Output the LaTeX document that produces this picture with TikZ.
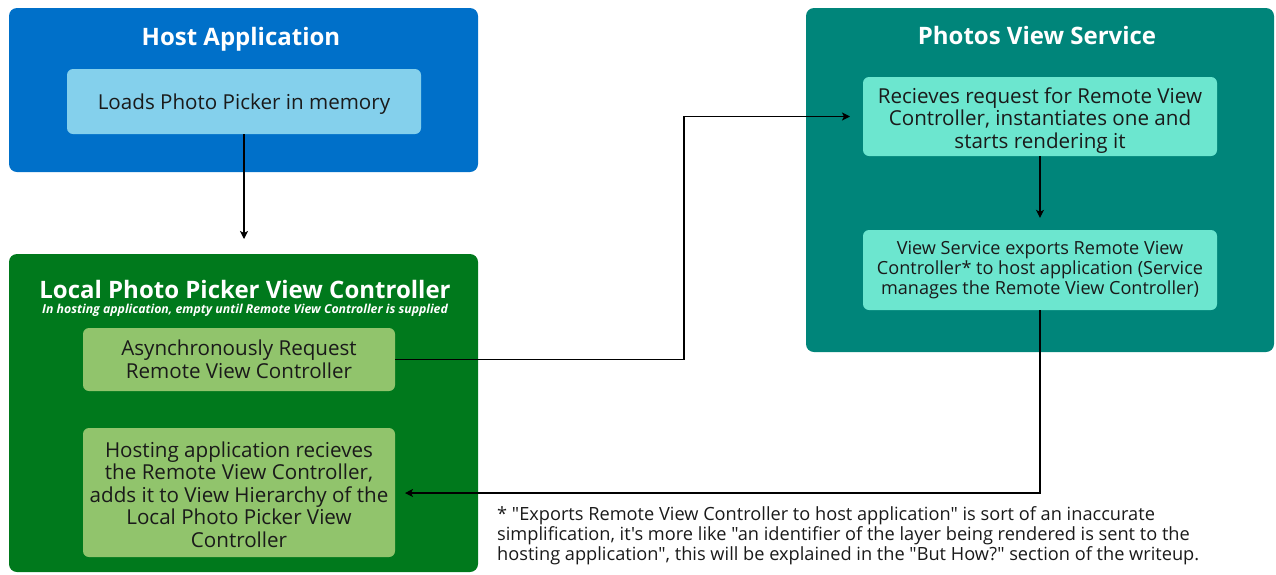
\documentclass[tikz,border=0pt]{standalone}
\usepackage{fontspec}
\setmainfont{Open Sans}[Ligatures=TeXOff]
\usetikzlibrary{arrows.meta}
\definecolor{hostblue}{HTML}{0070C9}
\definecolor{hostlight}{HTML}{84D0EC}
\definecolor{localgreen}{HTML}{00791C}
\definecolor{locallight}{HTML}{91C46C}
\definecolor{svcteal}{HTML}{00857A}
\definecolor{svclight}{HTML}{6CE6CF}
\definecolor{inktext}{HTML}{1A1A1A}
\begin{document}
\begin{tikzpicture}[x=1pt,y=-1pt,
  outerbox/.style={rectangle,rounded corners=8pt,inner sep=0pt,minimum width=#1},
  innerbox/.style={rectangle,rounded corners=6pt,inner sep=0pt},
  boxtext/.style={inner sep=0pt,align=center,text=inktext,font=\fontsize{20.6}{22.5}\selectfont},
  titletext/.style={anchor=base,text=white,font=\fontsize{24}{28}\selectfont\bfseries,inner sep=0pt},
  conn/.style={line width=1.2pt,-{Stealth[length=8pt,width=8pt,inset=2pt]}}
]
\useasboundingbox (0,0) rectangle (1276,574);
% outer boxes
\node[outerbox=469pt,minimum height=164pt,fill=hostblue] (host) at (243.5,90) {};
\node[outerbox=469pt,minimum height=318pt,fill=localgreen] (local) at (243.5,413) {};
\node[outerbox=468pt,minimum height=344pt,fill=svcteal] (svc) at (1040,180) {};
% titles
\node[titletext] (hosttitle) at (241,45) {Host Application};
\node[titletext] (localtitle) at (245,298) {Local Photo Picker View Controller};
\node[anchor=base,text=white,inner sep=0pt,font=\fontsize{12.3}{14}\selectfont\bfseries\itshape] (localsub) at (245,313) {In hosting application, empty until Remote View Controller is supplied};
\node[titletext] (svctitle) at (1037,44) {Photos View Service};
% inner boxes
\node[innerbox,fill=hostlight,minimum width=354pt,minimum height=65pt] (hostin) at (244,101.5) {};
\node[innerbox,fill=locallight,minimum width=312pt,minimum height=63pt] (async) at (239,359.5) {};
\node[innerbox,fill=locallight,minimum width=312pt,minimum height=129pt] (hosting) at (239,492.5) {};
\node[innerbox,fill=svclight,minimum width=354pt,minimum height=79pt] (recv) at (1040,116.5) {};
\node[innerbox,fill=svclight,minimum width=354pt,minimum height=80pt] (export) at (1040,270) {};
% inner texts
\node[boxtext] (hostinT) at (244,104.5) {Loads Photo Picker in memory};
\node[boxtext] (asyncT) at (239,359.5) {Asynchronously Request\\Remote View Controller};
\node[boxtext] (hostingT) at (239,494.5) {Hosting application recieves\\the Remote View Controller,\\adds it to View Hierarchy of the\\Local Photo Picker View\\Controller};
\node[boxtext] (recvT) at (1040,120.5) {Recieves request for Remote View\\Controller, instantiates one and\\starts rendering it};
\node[boxtext,font=\fontsize{18.1}{20}\selectfont] (exportT) at (1040,270) {View Service exports Remote View\\Controller* to host application (Service\\manages the Remote View Controller)};
% footnote
\node[anchor=north west,align=left,inner sep=0pt,text=inktext,font=\fontsize{18.2}{20.3}\selectfont] (note) at (497,506) {* "Exports Remote View Controller to host application" is sort of an inaccurate\\simplification, it's more like "an identifier of the layer being rendered is sent to the\\hosting application", this will be explained in the "But How?" section of the writeup.};
% connectors
\coordinate (a1) at (244,239);
\coordinate (b1) at (684,359.5);
\coordinate (b2) at (684,116.5);
\coordinate (b3) at (850,116.5);
\coordinate (c1) at (1040,493);
\coordinate (c2) at (405,493);
\draw[conn] (hostin.south) -- (a1);
\draw[conn] (async.east) -- (b1) -- (b2) -- (b3);
\draw[conn,shorten >=12pt] (recv.south) -- (export.north);
\draw[conn] (export.south) -- (c1) -- (c2);
\end{tikzpicture}
\end{document}
